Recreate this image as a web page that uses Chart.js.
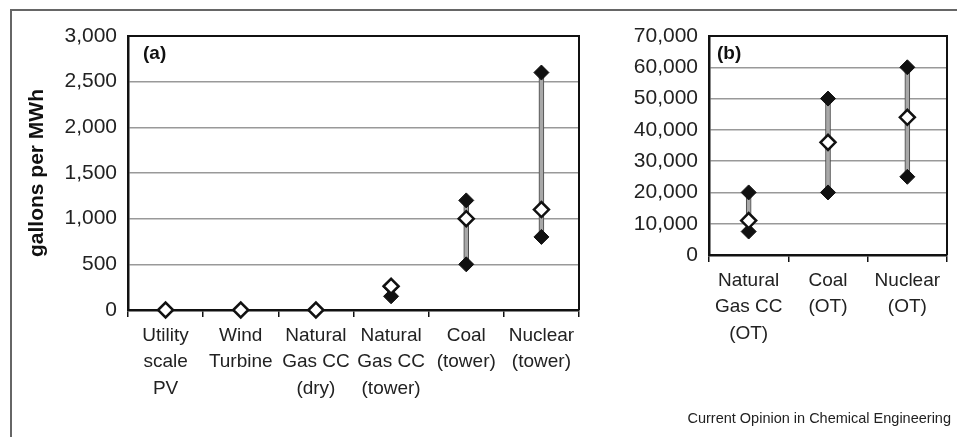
<!DOCTYPE html>
<html>
<head>
<meta charset="utf-8">
<script src="https://cdn.jsdelivr.net/npm/chart.js@4"></script>
<style>
  body { margin: 0; background: #fff; font-family: "Liberation Sans", Arial, sans-serif; }
  #wrap { position: relative; width: 957px; height: 437px; overflow: hidden; }
  #frame { position: absolute; left: 10px; top: 9px; width: 960px; height: 440px;
           border-top: 2px solid #666; border-left: 2px solid #666; }
  .cv { position: absolute; top: 0; }
  .tag { position: absolute; font-weight: bold; font-size: 19px; color: #111; }
  #credit { position: absolute; right: 6px; top: 410px; font-size: 14.5px; color: #222; }
</style>
</head>
<body>
<div id="wrap">
  <div id="frame"></div>
  <div class="cv" style="left:0;width:600px;height:437px"><canvas id="chart-a"></canvas></div>
  <div class="cv" style="left:600px;width:357px;height:437px"><canvas id="chart-b"></canvas></div>
  <div class="tag" style="left:143px;top:42px">(a)</div>
  <div class="tag" style="left:717px;top:42px">(b)</div>
  <div id="credit">Current Opinion in Chemical Engineering</div>
</div>
<script>
// panel (a): consumption with cooling towers / dry
const labelsA = [['Utility', 'scale', 'PV'], ['Wind', 'Turbine'], ['Natural', 'Gas CC', '(dry)'],
  ['Natural', 'Gas CC', '(tower)'], ['Coal', '(tower)'], ['Nuclear', '(tower)']];
const minA = [0, 0, 0, 150, 500, 800];
const maxA = [0, 0, 0, 250, 1200, 2600];
const medA = [0, 0, 0, 260, 1000, 1100];

// panel (b): once-through cooling
const labelsB = [['Natural', 'Gas CC', '(OT)'], ['Coal', '(OT)'], ['Nuclear', '(OT)']];
const minB = [7500, 20000, 25000];
const maxB = [20000, 50000, 60000];
const medB = [11000, 36000, 44000];

const FONT = '"Liberation Sans", Arial, sans-serif';

const plotBox = {
  id: 'plotBox',
  beforeDatasetsDraw(chart) {
    const a = chart.chartArea, ctx = chart.ctx;
    ctx.save();
    ctx.strokeStyle = '#111';
    ctx.lineWidth = 2;
    ctx.beginPath();
    ctx.moveTo(a.left, a.top);
    ctx.lineTo(a.right, a.top);
    ctx.lineTo(a.right, a.bottom);
    ctx.stroke();
    ctx.restore();
  }
};

function makeChart(id, labels, mins, maxs, meds, yMax, yStep, yWidth, xHeight, padRight, title) {
  const ranges = mins.map((v, i) => [v, maxs[i]]);
  const marker = (data, fill, bw, order) => ({
    type: 'line', data: data, order: order, showLine: false, clip: false,
    pointStyle: 'rectRot', pointRadius: 7.5,
    pointBackgroundColor: fill, pointBorderColor: '#111', pointBorderWidth: bw
  });
  new Chart(document.getElementById(id), {
    type: 'bar',
    data: {
      labels: labels,
      datasets: [
        {
          type: 'bar', data: ranges, order: 3,
          backgroundColor: '#a8a8a8', borderColor: '#444',
          borderWidth: { left: 1, right: 1, top: 0, bottom: 0 },
          borderSkipped: false, barThickness: 5
        },
        marker(mins, '#111', 1, 2),
        marker(maxs, '#111', 1, 2),
        marker(meds, '#fff', 2.5, 1)
      ]
    },
    options: {
      responsive: true,
      maintainAspectRatio: false,
      animation: false,
      layout: { padding: { top: 36, right: padRight, left: 0, bottom: 0 } },
      plugins: { legend: { display: false }, tooltip: { enabled: false } },
      scales: {
        x: {
          offset: true,
          grid: { offset: true, drawOnChartArea: false, drawTicks: true, tickLength: 7, color: '#111', lineWidth: 1.5 },
          border: { color: '#111', width: 2.5 },
          ticks: { color: '#222', padding: 5, maxRotation: 0, autoSkip: false,
                   font: { family: FONT, size: 19, lineHeight: 1.4 } },
          afterFit(s) { s.height = xHeight; }
        },
        y: {
          min: 0, max: yMax,
          grid: { drawTicks: false, color: '#999', lineWidth: 1.5 },
          border: { color: '#111', width: 2.5 },
          ticks: { stepSize: yStep, color: '#222', padding: 11, font: { family: FONT, size: 21 } },
          title: title ? { display: true, text: title, color: '#111', padding: { top: 25, bottom: 0 },
                           font: { family: FONT, size: 21, weight: 'bold', lineHeight: 1.2 } }
                       : { display: false },
          afterFit(s) { s.width = yWidth; }
        }
      }
    },
    plugins: [plotBox]
  });
}

makeChart('chart-a', labelsA, minA, maxA, medA, 3000, 500, 128, 127, 21, 'gallons per MWh');
makeChart('chart-b', labelsB, minB, maxB, medB, 70000, 10000, 109, 182, 6, null);
</script>
</body>
</html>
